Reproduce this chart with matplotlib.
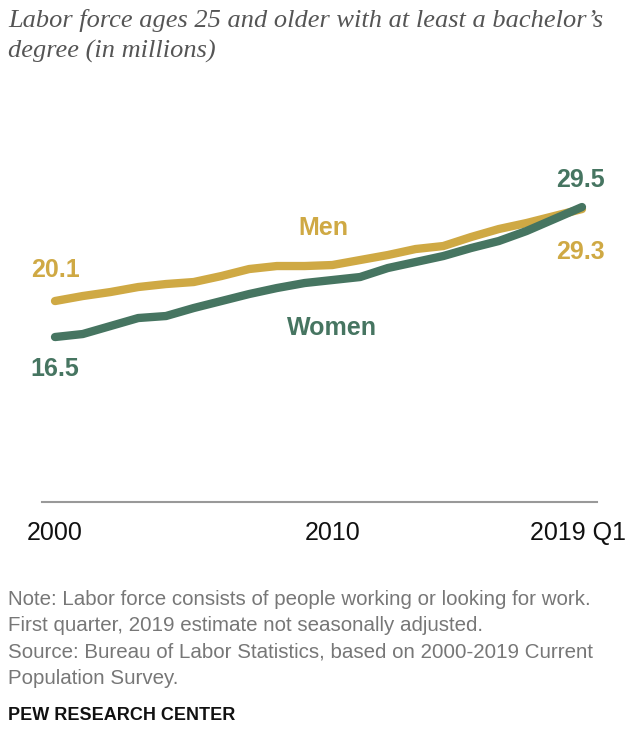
import matplotlib
matplotlib.use("Agg")
import matplotlib.pyplot as plt
from matplotlib.transforms import ScaledTranslation

# data (millions)
years = [2000, 2001, 2002, 2003, 2004, 2005, 2006, 2007, 2008, 2009,
         2010, 2011, 2012, 2013, 2014, 2015, 2016, 2017, 2018, 2019]
men = [20.1, 20.6, 21.0, 21.5, 21.8, 22.0, 22.6, 23.3, 23.6, 23.6,
       23.7, 24.2, 24.7, 25.3, 25.6, 26.5, 27.3, 27.9, 28.6, 29.3]
women = [16.5, 16.8, 17.6, 18.4, 18.6, 19.4, 20.1, 20.8, 21.4, 21.9,
         22.2, 22.5, 23.4, 24.0, 24.6, 25.4, 26.1, 27.1, 28.3, 29.5]
tick_years = [2000, 2010, 2019]
tick_labels = ["2000", "2010", "2019 Q1"]

gold = "#CFA944"
green = "#467561"

fig = plt.figure(figsize=(6.36, 7.40), dpi=100)
ax = fig.add_axes([0.066, 0.3216, 0.8726, 0.4324])

ax.plot(years, men, color=gold, lw=6, solid_capstyle="round", solid_joinstyle="round", zorder=2)
ax.plot(years, women, color=green, lw=6, solid_capstyle="round", solid_joinstyle="round", zorder=3)

ax.set_xlim(1999.53, 2019.54)
ax.set_ylim(0, 32)

for s in ["top", "right", "left"]:
    ax.spines[s].set_visible(False)
ax.spines["bottom"].set_color("#999999")
ax.spines["bottom"].set_linewidth(1.5)
ax.set_yticks([])
ax.set_xticks(tick_years)
ax.set_xticklabels(tick_labels, fontsize=18, family="Liberation Sans", color="#111111")
ax.tick_params(axis="x", length=0, pad=14)
last = ax.get_xticklabels()[-1]
last.set_transform(last.get_transform() + ScaledTranslation(-4 / 100, 0, fig.dpi_scale_trans))

lab = dict(fontsize=18, fontweight="bold", family="Liberation Sans", ha="center", va="center")
ax.text(years[0], men[0] + 3.1, f"{men[0]:.1f}", color=gold, **lab)
ax.text(years[0], women[0] - 3.2, f"{women[0]:.1f}", color=green, **lab)
ax.text(years[-1] - 0.07, women[-1] + 2.7, f"{women[-1]:.1f}", color=green, **lab)
ax.text(years[-1] - 0.07, men[-1] - 4.3, f"{men[-1]:.1f}", color=gold, **lab)
ax.text(2009.66, 27.4, "Men", color=gold, **lab)
ax.text(2010.0, 17.4, "Women", color=green, **lab)

fig.text(0.013, 0.988, "Labor force ages 25 and older with at least a bachelor\u2019s\ndegree (in millions)",
         fontsize=19, style="italic", family="Liberation Serif", color="#555555",
         va="top", ha="left", linespacing=1.45)

fig.text(0.013, 0.203, "Note: Labor force consists of people working or looking for work.\n"
         "First quarter, 2019 estimate not seasonally adjusted.\n"
         "Source: Bureau of Labor Statistics, based on 2000-2019 Current\n"
         "Population Survey.",
         fontsize=14.8, family="Liberation Sans", color="#777777", va="top", ha="left", linespacing=1.5)
fig.text(0.013, 0.022, "PEW RESEARCH CENTER", fontsize=13, fontweight="bold",
         family="Liberation Sans", color="#111111", va="bottom", ha="left")

fig.savefig("out.png", dpi=100)
